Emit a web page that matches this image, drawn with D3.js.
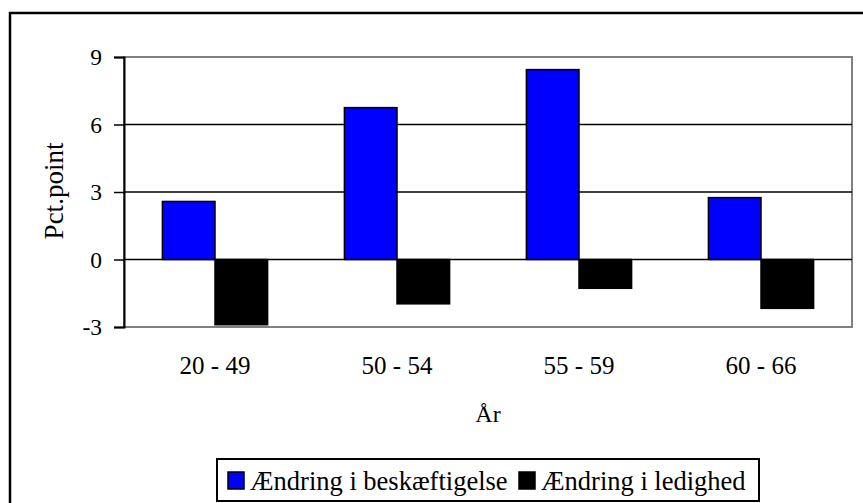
<!DOCTYPE html>
<html>
<head>
<meta charset="utf-8">
<script src="https://cdn.jsdelivr.net/npm/d3@7"></script>
<style>
  body { margin: 0; background: #fff; }
  svg { display: block; font-family: "Liberation Serif", "Times New Roman", serif; }
</style>
</head>
<body>
<div id="chart"></div>
<script>
const width = 863;
const height = 503;

// data
const categories = ["20 - 49", "50 - 54", "55 - 59", "60 - 66"];
const seriesNames = ["Ændring i beskæftigelse", "Ændring i ledighed"];
const employment = [2.58, 6.75, 8.44, 2.75];
const unemployment = [-2.9, -1.97, -1.28, -2.17];
const yTicks = [-3, 0, 3, 6, 9];
const colors = ["#0000ff", "#000000"];

const plot = { left: 124, right: 852, top: 57, bottom: 327 };

const svg = d3.select("#chart").append("svg")
  .attr("width", width)
  .attr("height", height);

// outer chart frame (runs off the right and bottom edge)
svg.append("rect")
  .attr("x", 10).attr("y", 13)
  .attr("width", 1000).attr("height", 700)
  .attr("fill", "none")
  .attr("stroke", "#000")
  .attr("stroke-width", 2.5);

const x0 = d3.scaleBand().domain(categories).range([plot.left, plot.right]).padding(0);
const x1 = d3.scaleBand().domain(seriesNames)
  .range([x0.bandwidth() * 0.211, x0.bandwidth() * 0.789]);
const y = d3.scaleLinear().domain([-3, 9]).range([plot.bottom, plot.top]);

// plot area border (grey)
svg.append("rect")
  .attr("x", plot.left).attr("y", plot.top)
  .attr("width", plot.right - plot.left)
  .attr("height", plot.bottom - plot.top)
  .attr("fill", "none")
  .attr("stroke", "#808080")
  .attr("stroke-width", 2);

// gridlines
svg.append("g")
  .selectAll("line")
  .data(yTicks.filter((t) => t > -3 && t < 9))
  .enter()
  .append("line")
  .attr("x1", plot.left).attr("x2", plot.right)
  .attr("y1", (d) => y(d)).attr("y2", (d) => y(d))
  .attr("stroke", "#000")
  .attr("stroke-width", 1.5);

// bars
const rows = categories.map((c, i) => ({ cat: c, vals: [employment[i], unemployment[i]] }));

svg.append("g")
  .selectAll("g")
  .data(rows)
  .enter()
  .append("g")
  .attr("transform", (d) => "translate(" + x0(d.cat) + ",0)")
  .selectAll("rect")
  .data((d) => d.vals.map((v, j) => ({ name: seriesNames[j], value: v, j: j })))
  .enter()
  .append("rect")
  .attr("x", (d) => x1(d.name))
  .attr("width", x1.bandwidth())
  .attr("y", (d) => y(Math.max(0, d.value)))
  .attr("height", (d) => Math.abs(y(d.value) - y(0)))
  .attr("fill", (d) => colors[d.j])
  .attr("stroke", "#000")
  .attr("stroke-width", 1.5);

// y axis (plain hyphen for negatives, like the original)
const yAxis = d3.axisLeft(y).tickValues(yTicks).tickSize(10).tickPadding(12).tickFormat((d) => String(d));
const ga = svg.append("g")
  .attr("transform", "translate(" + plot.left + ",0)")
  .call(yAxis);
ga.select(".domain").attr("stroke", "#000").attr("stroke-width", 2);
ga.selectAll(".tick line").attr("stroke", "#000").attr("stroke-width", 1.5);
ga.selectAll(".tick text")
  .attr("fill", "#000")
  .style("font-size", "23.5px")
  .style("font-family", "Liberation Serif, serif");

// category labels
svg.append("g")
  .selectAll("text")
  .data(categories)
  .enter()
  .append("text")
  .attr("x", (d) => x0(d) + x0.bandwidth() / 2)
  .attr("y", 374)
  .attr("text-anchor", "middle")
  .style("font-size", "25px")
  .text((d) => d);

// axis titles
svg.append("text")
  .attr("x", (plot.left + plot.right) / 2)
  .attr("y", 422)
  .attr("text-anchor", "middle")
  .style("font-size", "24px")
  .text("År");

svg.append("text")
  .attr("transform", "translate(63,191) rotate(-90)")
  .attr("text-anchor", "middle")
  .style("font-size", "27px")
  .text("Pct.point");

// legend
const legend = svg.append("g");
legend.append("rect")
  .attr("x", 217).attr("y", 459)
  .attr("width", 542).attr("height", 42)
  .attr("fill", "#fff")
  .attr("stroke", "#000")
  .attr("stroke-width", 2);

const legendX = [228, 519];
seriesNames.forEach((name, i) => {
  legend.append("rect")
    .attr("x", legendX[i]).attr("y", 472)
    .attr("width", 16).attr("height", 17)
    .attr("fill", colors[i])
    .attr("stroke", "#000")
    .attr("stroke-width", 1.5);
  legend.append("text")
    .attr("x", legendX[i] + 22)
    .attr("y", 490)
    .style("font-size", "26.5px")
    .text(name);
});
</script>
</body>
</html>
